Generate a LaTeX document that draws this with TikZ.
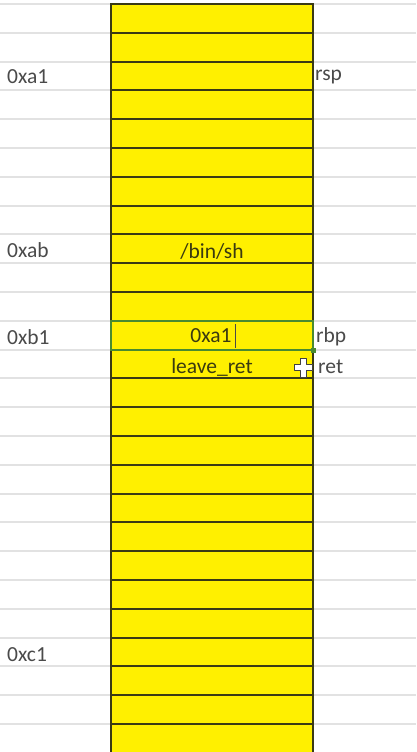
\documentclass[tikz,border=0pt]{standalone}
\usepackage{fontspec}
\setmainfont{Carlito}
\definecolor{cellyellow}{HTML}{FFF000}
\definecolor{cellline}{HTML}{3A3A14}
\definecolor{gridgray}{HTML}{E2E2E2}
\definecolor{labelgray}{HTML}{4A4A4A}
\definecolor{celltext}{HTML}{3A3A10}
\definecolor{selgreen}{HTML}{4A8A30}
\tikzset{
  addr/.style={anchor=west, text=labelgray, font=\fontsize{21.5}{25}\selectfont, inner sep=0pt},
  reg/.style={anchor=west, text=labelgray, font=\fontsize{21.5}{25}\selectfont, inner sep=0pt},
  celltxt/.style={anchor=center, text=celltext, font=\fontsize{21.5}{25}\selectfont, inner sep=0pt},
  cellbox/.style={draw=cellline, fill=cellyellow, line width=2pt},
}
\begin{document}
\begin{tikzpicture}[x=1pt,y=-1pt]
\useasboundingbox (0,0) rectangle (416,752);
\fill[white] (0,0) rectangle (416,752);
\begin{scope}
\clip (0,0) rectangle (416,752);
% spreadsheet grid lines
\foreach \k in {0,...,26}{
  \pgfmathsetmacro{\ya}{round(4+28.8*\k)}
  \draw[gridgray, line width=1.6pt] (0,\ya) -- (416,\ya);
}
% yellow column cells
\foreach \k in {0,...,25}{
  \pgfmathsetmacro{\ya}{round(4+28.8*\k)}
  \pgfmathsetmacro{\yb}{round(4+28.8*(\k+1))}
  \draw[cellbox] (111,\ya) rectangle (313,\yb);
}
\end{scope}
% left address labels
\node[addr] (a1) at (7,77) {0xa1};
\node[addr] (ab) at (7,250) {0xab};
\node[addr] (b1) at (7,337) {0xb1};
\node[addr] (c1) at (7,655) {0xc1};
% right register labels
\node[reg] (rsp) at (315,77) {rsp};
\node[reg] (rbp) at (316,337) {rbp};
\node[reg] (ret) at (318,367) {ret};
% cell contents
\node[celltxt] (binsh) at (212,251) {/bin/sh};
\node[celltxt] (val) at (211,336) {0xa1};
\node[celltxt] (leave) at (212,367) {leave\_ret};
% text cursor
\draw[labelgray, line width=1pt] (235,324) -- (235,348);
% selection border
\draw[selgreen, line width=2.2pt] (111,321) rectangle (313,350);
\fill[selgreen] (311,348) rectangle (316,353);
% mouse cross cursor
\draw[fill=white, draw=black!75, line width=1pt, line join=round]
  (300,358) -- (306.5,358) -- (306.5,364) -- (312.5,364) -- (312.5,370.5)
  -- (306.5,370.5) -- (306.5,377) -- (300,377) -- (300,370.5) -- (294,370.5)
  -- (294,364) -- (300,364) -- cycle;
\end{tikzpicture}
\end{document}
